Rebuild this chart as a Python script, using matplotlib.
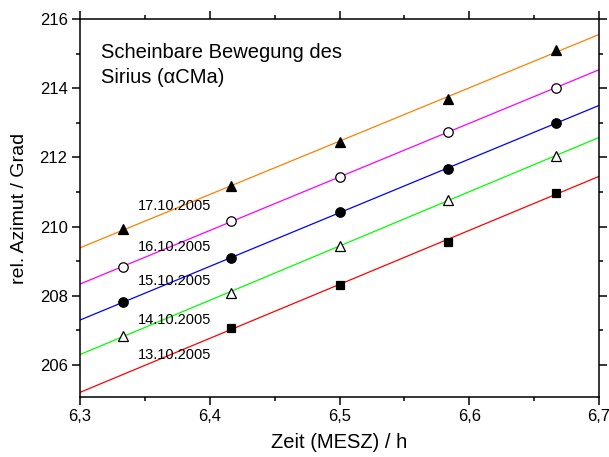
#!/usr/bin/env python3
"""Apparent motion of Sirius: relative azimuth vs. time for five nights."""

import matplotlib

matplotlib.use("Agg")
import matplotlib.pyplot as plt
from matplotlib.ticker import FuncFormatter, MultipleLocator
import numpy as np

# time of observation (MESZ, decimal hours)
times = [6.3333, 6.4167, 6.5, 6.5833, 6.6667]

dates = ["13.10.2005", "14.10.2005", "15.10.2005", "16.10.2005", "17.10.2005"]

# relative azimuth in degrees, one list per night (13.10. has no first point)
az_1310 = [207.06, 208.31, 209.56, 210.98]
az_1410 = [206.84, 208.09, 209.44, 210.77, 212.04]
az_1510 = [207.82, 209.09, 210.42, 211.66, 213.00]
az_1610 = [208.83, 210.17, 211.43, 212.74, 214.00]
az_1710 = [209.93, 211.18, 212.44, 213.69, 215.10]

times_1310 = times[1:]

# label positions next to the lines
label_x = 6.3447
label_y = [206.29, 207.30, 208.43, 209.42, 210.60]


def _style() -> None:
    plt.rcParams.update(
        {
            "font.family": ["Liberation Sans", "DejaVu Sans"],
            "font.size": 12,
            "axes.linewidth": 1.1,
            "xtick.direction": "out",
            "ytick.direction": "out",
            "xtick.major.size": 6,
            "ytick.major.size": 6,
            "xtick.minor.size": 3,
            "ytick.minor.size": 3,
            "xtick.major.width": 1.1,
            "ytick.major.width": 1.1,
            "xtick.minor.width": 1.1,
            "ytick.minor.width": 1.1,
        }
    )


def main() -> int:
    _style()
    fig = plt.figure(figsize=(6.09, 4.57), dpi=100)
    ax = fig.add_axes([0.1314, 0.1313, 0.8522, 0.8271])

    series = [
        (times_1310, az_1310, "#ff0000", "s", "black", 5.8),
        (times, az_1410, "#00ff00", "^", "white", 7.5),
        (times, az_1510, "#0000ff", "o", "black", 6.8),
        (times, az_1610, "#ff00ff", "o", "white", 6.8),
        (times, az_1710, "#ff8000", "^", "black", 7.5),
    ]

    x_fit = np.array([6.3, 6.7])
    for tx, ay, color, marker, face, ms in series:
        slope, icept = np.polyfit(tx, ay, 1)
        ax.plot(x_fit, slope * x_fit + icept, color=color, lw=0.9, zorder=2)
        ax.plot(
            tx,
            ay,
            linestyle="none",
            marker=marker,
            markersize=ms,
            markerfacecolor=face,
            markeredgecolor="black",
            markeredgewidth=0.9,
            zorder=3,
        )

    for date, ly in zip(dates, label_y):
        ax.text(label_x, ly, date, fontsize=10.5, ha="left", va="center")

    ax.text(
        0.04,
        0.878,
        "Scheinbare Bewegung des\nSirius (\u03b1CMa)",
        transform=ax.transAxes,
        fontsize=14.5,
        ha="left",
        va="center",
        linespacing=1.4,
    )

    ax.set_xlim(6.3, 6.7)
    ax.set_ylim(205.07, 216)
    ax.xaxis.set_major_locator(MultipleLocator(0.1))
    ax.xaxis.set_minor_locator(MultipleLocator(0.05))
    ax.yaxis.set_major_locator(MultipleLocator(2))
    ax.yaxis.set_minor_locator(MultipleLocator(1))
    ax.xaxis.set_major_formatter(FuncFormatter(lambda v, _: f"{v:.1f}".replace(".", ",")))
    ax.yaxis.set_major_formatter(FuncFormatter(lambda v, _: f"{v:.0f}"))
    ax.tick_params(which="both", top=True, right=True, labeltop=False, labelright=False)
    ax.tick_params(axis="both", which="major", labelsize=12, pad=3)

    ax.set_xlabel("Zeit (MESZ) / h", fontsize=14.5, labelpad=6)
    ax.set_ylabel("rel. Azimut / Grad", fontsize=14, labelpad=8)

    fig.patch.set_facecolor("white")
    fig.savefig("out.png", dpi=100)
    plt.close(fig)
    return 0


if __name__ == "__main__":
    raise SystemExit(main())
